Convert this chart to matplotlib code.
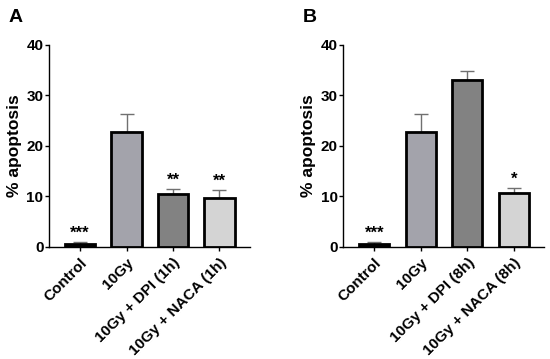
import matplotlib.pyplot as plt

plt.rcParams['font.family'] = ['Liberation Sans', 'DejaVu Sans']
plt.rcParams['font.weight'] = 'bold'

groups_a = ["Control", "10Gy", "10Gy + DPI (1h)", "10Gy + NACA (1h)"]
groups_b = ["Control", "10Gy", "10Gy + DPI (8h)", "10Gy + NACA (8h)"]
means_a = [0.6, 22.7, 10.4, 9.7]
errs_a = [0.4, 3.6, 1.1, 1.6]
stars_a = ["***", "", "**", "**"]
means_b = [0.6, 22.7, 33.0, 10.7]
errs_b = [0.4, 3.6, 1.9, 0.9]
stars_b = ["***", "", "", "*"]
colors = ["#111111", "#a3a3ab", "#828282", "#d4d4d4"]

fig = plt.figure(figsize=(5.5, 3.59), dpi=100)

def panel(rect, names, means, errs, stars, letter):
    ax = fig.add_axes(rect)
    x = range(len(names))
    ax.bar(x, means, width=0.65, color=colors, edgecolor="black", linewidth=2.0, zorder=3)
    ax.errorbar(x, means, yerr=[[0] * len(errs), errs], fmt="none", ecolor="#707070",
                elinewidth=1.0, capsize=5, capthick=1.0, zorder=2)
    for i, s in enumerate(stars):
        if s:
            ax.text(i, means[i] + errs[i] + 0.3, s, ha="center", va="bottom", fontsize=12)
    ax.set_xlim(-0.67, 3.65)
    ax.set_ylim(0, 40)
    ax.set_yticks([0, 10, 20, 30, 40])
    ax.set_xticks(list(x))
    ax.set_xticklabels(names, rotation=45, ha="right", rotation_mode="anchor", fontsize=11)
    ax.tick_params(axis="y", labelsize=11, length=3, width=1, pad=1)
    ax.tick_params(axis="x", length=3, width=1, pad=3)
    for t in ax.get_yticklabels():
        t.set_fontweight("bold")
    for sp in ["top", "right"]:
        ax.spines[sp].set_visible(False)
    ax.spines["left"].set_linewidth(1)
    ax.spines["bottom"].set_linewidth(1)
    ax.set_ylabel("% apoptosis", fontsize=12.5, fontweight="bold", labelpad=3)
    fig.text(rect[0] - 0.074, 0.952, letter, fontsize=14, fontweight="bold", va="center")
    return ax

panel([0.089, 0.312, 0.365, 0.563], groups_a, means_a, errs_a, stars_a, "A")
panel([0.624, 0.312, 0.365, 0.563], groups_b, means_b, errs_b, stars_b, "B")

fig.savefig("out.png", dpi=100)
